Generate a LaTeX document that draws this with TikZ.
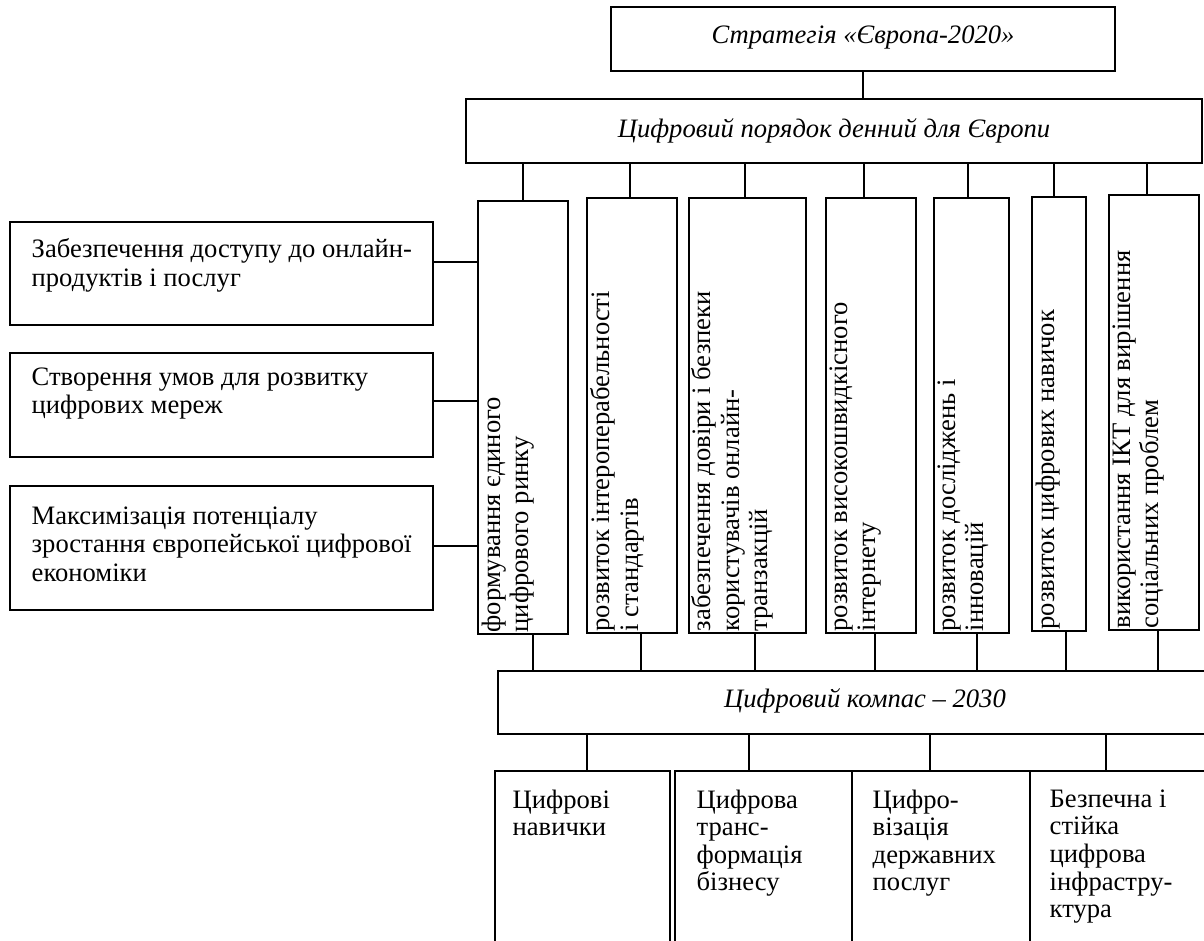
\documentclass[tikz,border=0pt]{standalone}
\usepackage{fontspec}
\setmainfont{Liberation Serif}
\usetikzlibrary{fit}
\tikzset{
  box/.style={draw, line width=0.7pt, inner sep=0pt},
  link/.style={line width=0.7pt},
  txt/.style={inner sep=0pt, align=left, font=\fontsize{13.3}{14.2}\selectfont},
  btxt/.style={inner sep=0pt, align=left, font=\fontsize{13.3}{13.8}\selectfont},
  itx/.style={inner sep=0pt, font=\fontsize{13.3}{14.2}\selectfont\itshape}
}
\begin{document}
\begin{tikzpicture}[x=0.5pt,y=-0.5pt]
\useasboundingbox (0,0) rectangle (1204,941);
\clip (0,0) rectangle (1204,941);
% top boxes
\node[box, fit={(611,7)(1115,71)}] (top) {};
\node[box, fit={(466,99)(1202,163)}] (agenda) {};
\node[itx] (toptext) at (863,37) {Стратегія «Європа-2020»};
\node[itx] (agtext) at (834,131) {Цифровий порядок денний для Європи};
% vertical boxes
\node[box, fit={(478,201)(568,634)}] (v1) {};
\node[box, fit={(587,198)(677,633)}] (v2) {};
\node[box, fit={(689,198)(806,633)}] (v3) {};
\node[box, fit={(826,198)(916,633)}] (v4) {};
\node[box, fit={(934,198)(1009,633)}] (v5) {};
\node[box, fit={(1032,197)(1086,631)}] (v6) {};
\node[box, fit={(1109,195)(1199,630)}] (v7) {};
\node[txt, rotate=90, anchor=north west] (t1) at ([shift={(4,-2)}]v1.south west) {формування єдиного\\цифрового ринку};
\node[txt, rotate=90, anchor=north west] (t2) at ([shift={(4,-2)}]v2.south west) {розвиток інтероперабельності\\і стандартів};
\node[txt, rotate=90, anchor=north west] (t3) at ([shift={(3,-2)}]v3.south west) {забезпечення довіри і безпеки\\користувачів онлайн-\\транзакцій};
\node[txt, rotate=90, anchor=north west] (t4) at ([shift={(4,-2)}]v4.south west) {розвиток високошвидкісного\\інтернету};
\node[txt, rotate=90, anchor=north west] (t5) at ([shift={(4,-2)}]v5.south west) {розвиток досліджень і\\інновацій};
\node[txt, rotate=90, anchor=north west] (t6) at ([shift={(4,-2)}]v6.south west) {розвиток цифрових навичок};
\node[txt, rotate=90, anchor=north west] (t7) at ([shift={(4,-2)}]v7.south west) {використання ІКТ для вирішення\\соціальних проблем};
% left boxes
\node[box, fit={(10,222)(433,325)}] (L1) {};
\node[box, fit={(10,353)(433,457)}] (L2) {};
\node[box, fit={(10,486)(433,610)}] (L3) {};
\node[txt, anchor=north west] (lt1) at ([shift={(22,17)}]L1.north west) {Забезпечення доступу до онлайн-\\продуктів і послуг};
\node[txt, anchor=north west] (lt2) at ([shift={(22,15)}]L2.north west) {Створення умов для розвитку\\цифрових мереж};
\node[txt, anchor=north west] (lt3) at ([shift={(22,21)}]L3.north west) {Максимізація потенціалу\\зростання європейської цифрової\\економіки};
% compass
\node[box, fit={(498,671)(1240,734)}] (compass) {};
\node[itx] (ctext) at (865,701) {Цифровий компас – 2030};
% bottom boxes
\node[box, fit={(495,771)(670,960)}] (b1) {};
\node[box, fit={(675,771)(852,960)}] (b2) {};
\node[box, fit={(852,771)(1030,960)}] (b3) {};
\node[box, fit={(1030,771)(1240,960)}] (b4) {};
\node[btxt, anchor=north west] (bt1) at ([shift={(18,19)}]b1.north west) {Цифрові\\навички};
\node[btxt, anchor=north west] (bt2) at ([shift={(22,19)}]b2.north west) {Цифрова\\транс-\\формація\\бізнесу};
\node[btxt, anchor=north west] (bt3) at ([shift={(21,19)}]b3.north west) {Цифро-\\візація\\державних\\послуг};
\node[btxt, anchor=north west] (bt4) at ([shift={(20,19)}]b4.north west) {Безпечна і\\стійка\\цифрова\\інфрастру-\\ктура};
% connectors
\draw[link] (top.south) -- (top.south |- agenda.north);
\foreach \x/\n in {523/1,630/2,745/3,864/4,968/5,1054/6,1147/7}{
  \coordinate (u\n) at (\x,0);
  \draw[link] (agenda.south -| u\n) -- (v\n.north -| u\n);
}
\foreach \x/\n in {533/1,641/2,755/3,875/4,977/5,1066/6,1158/7}{
  \coordinate (w\n) at (\x,0);
  \draw[link] (v\n.south -| w\n) -- (compass.north -| w\n);
}
\foreach \x/\n in {587/1,749/2,930/3,1106/4}{
  \coordinate (z\n) at (\x,0);
  \draw[link] (compass.south -| z\n) -- (b\n.north -| z\n);
}
\foreach \y/\n in {262/1,401/2,546/3}{
  \coordinate (h\n) at (0,\y);
  \draw[link] (L\n.east |- h\n) -- (v1.west |- h\n);
}
\end{tikzpicture}
\end{document}
